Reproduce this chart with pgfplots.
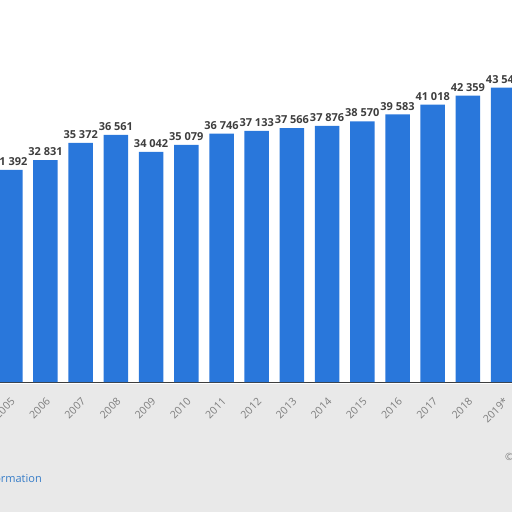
\documentclass[border=0pt]{standalone}
\usepackage{fontspec}
\setmainfont{Open Sans}
\usepackage{pgfplots}
\pgfplotsset{compat=1.18}

\definecolor{barblue}{RGB}{41,119,219}
\definecolor{labelgray}{RGB}{62,62,62}
\definecolor{tickgray}{RGB}{125,125,125}
\definecolor{smudge}{RGB}{233,233,233}
\definecolor{linkblue}{RGB}{55,125,200}

\begin{document}
\begin{tikzpicture}[x=1pt,y=1pt]
\useasboundingbox (0,0) rectangle (512,512);
\clip (0,0) rectangle (512,512);
% grey band under the plot
\fill[smudge] (0,0) rectangle (512,128);
\begin{axis}[
    at={(-24.9pt,130pt)}, anchor=south west,
    scale only axis,
    width=563.2pt, height=338pt,
    xmin=2004, xmax=2020,
    ymin=0, ymax=50000,
    enlargelimits=false,
    ybar, bar width=24.5pt,
    axis x line*=bottom, axis y line=none,
    x axis line style={draw=labelgray, line width=0.9pt},
    xtick={2005,...,2019},
    xticklabels={2005,2006,2007,2008,2009,2010,2011,2012,2013,2014,2015,2016,2017,2018,2019*},
    xticklabel style={rotate=45, anchor=north east, font=\fontsize{10.5}{12}\selectfont,
        text=tickgray, yshift=-7pt, xshift=-7pt},
    major tick length=0pt,
    ytick={10000,20000,30000,40000,50000},
    yticklabels={},
    ymajorgrids,
    grid style={gray!45, dash pattern=on 1pt off 1.5pt},
    nodes near coords,
    nodes near coords style={font=\fontsize{11}{13}\selectfont\bfseries, text=labelgray,
        yshift=3pt, inner sep=1pt,
        /pgf/number format/.cd, fixed, precision=0, 1000 sep={\ }, assume math mode=true},
    clip=false,
]
\addplot[fill=barblue, draw=none] coordinates {
 (2005,31392) (2006,32831) (2007,35372) (2008,36561) (2009,34042)
 (2010,35079) (2011,36746) (2012,37133) (2013,37566) (2014,37876)
 (2015,38570) (2016,39583) (2017,41018) (2018,42359) (2019,43549)
};
\end{axis}
\node[anchor=base east, inner sep=0, text=linkblue, font=\fontsize{11}{13}\selectfont] at (42,29) {Additional Information};
\node[anchor=base west, inner sep=0, text=tickgray, font=\fontsize{10}{12}\selectfont] at (505,52) {\textcopyright\ Statista 2020};
\end{tikzpicture}
\end{document}
